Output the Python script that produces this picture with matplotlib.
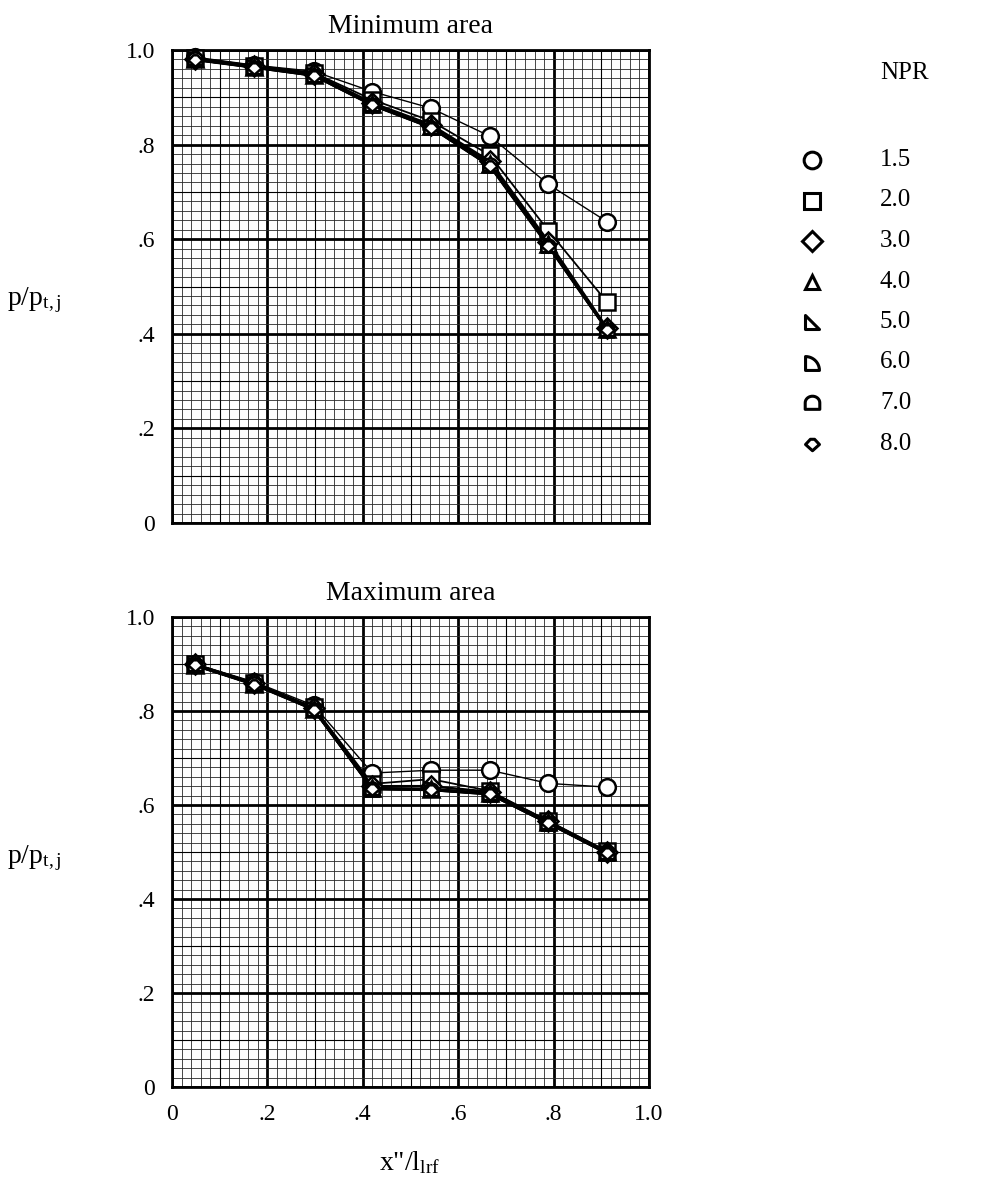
import numpy as np
import matplotlib
matplotlib.use("Agg")
import matplotlib.pyplot as plt
from matplotlib.path import Path
from matplotlib.ticker import MultipleLocator

plt.rcParams['font.family'] = ['Liberation Serif', 'DejaVu Serif']
plt.rcParams['mathtext.fontset'] = 'custom'
plt.rcParams['mathtext.rm'] = 'Liberation Serif'
plt.rcParams['mathtext.it'] = 'Liberation Serif:italic'

# station positions x''/l_lrf
x_pos = [0.048, 0.172, 0.297, 0.420, 0.543, 0.666, 0.789, 0.912]
npr_labels = ['1.5', '2.0', '3.0', '4.0', '5.0', '6.0', '7.0', '8.0']

# minimum area p/p_t,j
min_15 = [0.985, 0.968, 0.955, 0.912, 0.877, 0.818, 0.716, 0.637]
min_20 = [0.983, 0.967, 0.952, 0.895, 0.850, 0.778, 0.618, 0.467]
min_30 = [0.982, 0.966, 0.950, 0.888, 0.842, 0.765, 0.595, 0.412]
min_40 = [0.981, 0.965, 0.948, 0.886, 0.840, 0.760, 0.590, 0.410]
min_50 = [0.980, 0.964, 0.947, 0.885, 0.838, 0.758, 0.588, 0.410]
min_60 = [0.980, 0.964, 0.947, 0.884, 0.837, 0.757, 0.587, 0.409]
min_70 = [0.980, 0.963, 0.946, 0.884, 0.836, 0.756, 0.586, 0.409]
min_80 = [0.979, 0.963, 0.946, 0.883, 0.836, 0.755, 0.585, 0.408]

# maximum area p/p_t,j
max_15 = [0.900, 0.862, 0.812, 0.668, 0.674, 0.674, 0.646, 0.638]
max_20 = [0.900, 0.860, 0.808, 0.645, 0.655, 0.630, 0.566, 0.502]
max_30 = [0.899, 0.859, 0.806, 0.640, 0.640, 0.628, 0.565, 0.500]
max_40 = [0.898, 0.858, 0.805, 0.636, 0.634, 0.625, 0.563, 0.499]
max_50 = [0.898, 0.858, 0.804, 0.635, 0.633, 0.624, 0.562, 0.498]
max_60 = [0.897, 0.857, 0.804, 0.635, 0.633, 0.624, 0.562, 0.498]
max_70 = [0.897, 0.857, 0.803, 0.634, 0.632, 0.623, 0.561, 0.497]
max_80 = [0.897, 0.856, 0.803, 0.634, 0.632, 0.623, 0.561, 0.497]

min_series = [min_15, min_20, min_30, min_40, min_50, min_60, min_70, min_80]
max_series = [max_15, max_20, max_30, max_40, max_50, max_60, max_70, max_80]

# custom marker shapes
t = np.linspace(0, np.pi / 2, 12)
quarter = Path(np.vstack([[[-1, -1], [-1, 1]],
                          np.column_stack([-1 + 2 * np.sin(t), -1 + 2 * np.cos(t)]),
                          [[-1, -1]]]), closed=True)
t2 = np.linspace(np.pi, 0, 16)
dome = Path(np.vstack([[[-1, -0.8], [-1, 0.1]],
                       np.column_stack([np.cos(t2), 0.1 + 0.9 * np.sin(t2)]),
                       [[1, -0.8], [-1, -0.8]]]), closed=True)
right_tri = Path([[-1, 1], [-1, -1], [1, -1], [-1, 1]], closed=True)
squat_diamond = Path([[-1, 0], [-0.3, 0.75], [0.3, 0.75], [1, 0], [0, -0.9], [-1, 0]], closed=True)

markers = ['o', 's', 'D', '^', right_tri, quarter, dome, squat_diamond]
msizes = [12, 11, 10, 11.5, 10, 10, 10, 10]
lwidths = [1.0, 1.3, 1.8, 1.8, 1.8, 1.8, 1.8, 1.8]
leg_sizes = [12, 11, 10, 10, 9.5, 10, 10.5, 10]

W, H = 998, 1203
fig = plt.figure(figsize=(W / 100, H / 100), dpi=100)

ax_top = fig.add_axes([172 / W, 1 - 523 / H, 477 / W, 473 / H])
ax_bot = fig.add_axes([172 / W, 1 - 1087 / H, 477 / W, 470 / H])


def style_axes(ax, show_x):
    ax.set_xlim(0, 1.0)
    ax.set_ylim(0, 1.0)
    ax.xaxis.set_minor_locator(MultipleLocator(0.02))
    ax.yaxis.set_minor_locator(MultipleLocator(0.02))
    ax.grid(which='minor', color='#2a2a2a', linewidth=0.6)
    ax.grid(which='major', color='black', linewidth=2.0)
    # slightly heavier mid lines of the graph paper
    for v in [0.1, 0.3, 0.5, 0.7, 0.9]:
        ax.axvline(v, color='black', linewidth=0.8, zorder=0.6)
        ax.axhline(v, color='black', linewidth=0.8, zorder=0.6)
    ax.set_axisbelow(True)
    for s in ax.spines.values():
        s.set_linewidth(2.0)
    ax.tick_params(which='both', length=0, labelsize=17, pad=12)
    labs = ['0', '.2', '.4', '.6', '.8', '1.0']
    ax.set_yticks([0, 0.2, 0.4, 0.6, 0.8, 1.0])
    ax.set_yticklabels(labs)
    ax.set_xticks([0, 0.2, 0.4, 0.6, 0.8, 1.0])
    if show_x:
        ax.set_xticklabels(labs)
    else:
        ax.set_xticklabels([])


for ax, series, title in [(ax_top, min_series, 'Minimum area'),
                          (ax_bot, max_series, 'Maximum area')]:
    style_axes(ax, ax is ax_bot)
    for vals, m, ms, lw in zip(series, markers, msizes, lwidths):
        ax.plot(x_pos, vals, color='black', linewidth=lw, marker=m,
                markersize=ms, markerfacecolor='white', markeredgecolor='black',
                markeredgewidth=1.8, clip_on=False, zorder=3)
    ax.set_title(title, fontsize=20, pad=12)

fig.text(7 / W, 1 - 300 / H, r'p/p$_{\mathrm{t,j}}$', fontsize=20, va='center', ha='left')
fig.text(7 / W, 1 - 858 / H, r'p/p$_{\mathrm{t,j}}$', fontsize=20, va='center', ha='left')
fig.text(410 / W, 1 - 1163 / H, r'x"/l$_{\mathrm{lrf}}$', fontsize=20, va='center', ha='center')

# legend drawn in pixel coordinates
ax_leg = fig.add_axes([0, 0, 1, 1], facecolor='none')
ax_leg.set_xlim(0, W)
ax_leg.set_ylim(H, 0)
ax_leg.axis('off')
ax_leg.text(905, 73, 'NPR', fontsize=18, ha='center', va='center')
for i, (lab, m, ms) in enumerate(zip(npr_labels, markers, leg_sizes)):
    yy = 160 + 40.5 * i
    ax_leg.plot([812], [yy], marker=m, markersize=ms, markerfacecolor='white',
                markeredgecolor='black', markeredgewidth=2.2, linestyle='none')
    ax_leg.text(880, yy, lab, fontsize=18, ha='left', va='center')

fig.savefig('out.png', dpi=100)
